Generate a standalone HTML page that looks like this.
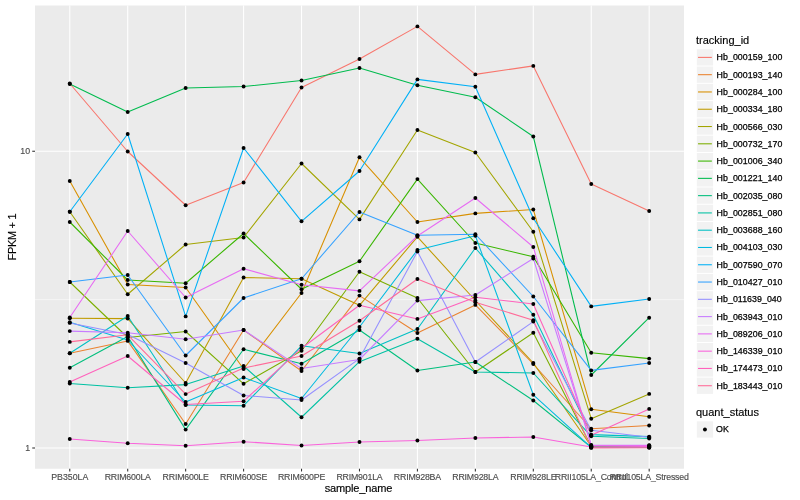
<!DOCTYPE html>
<html><head><meta charset="utf-8"><title>plot</title>
<style>html,body{margin:0;padding:0;background:#fff}body{width:800px;height:500px;overflow:hidden}svg{display:block;will-change:transform}text{font-family:"Liberation Sans",sans-serif}</style></head><body>
<svg width="800" height="500" viewBox="0 0 800 500">
<rect x="0" y="0" width="800" height="500" fill="#FFFFFF"/>
<rect x="35.0" y="5.48" width="648.95" height="463.24" fill="#EBEBEB"/>
<line x1="35.0" x2="683.95" y1="299.62" y2="299.62" stroke="#FFFFFF" stroke-width="0.53"/>
<line x1="35.0" x2="683.95" y1="151.25" y2="151.25" stroke="#FFFFFF" stroke-width="1.07"/>
<line x1="35.0" x2="683.95" y1="448.0" y2="448.0" stroke="#FFFFFF" stroke-width="1.07"/>
<line x1="69.77" x2="69.77" y1="5.48" y2="468.72" stroke="#FFFFFF" stroke-width="1.07"/>
<line x1="127.71" x2="127.71" y1="5.48" y2="468.72" stroke="#FFFFFF" stroke-width="1.07"/>
<line x1="185.65" x2="185.65" y1="5.48" y2="468.72" stroke="#FFFFFF" stroke-width="1.07"/>
<line x1="243.59" x2="243.59" y1="5.48" y2="468.72" stroke="#FFFFFF" stroke-width="1.07"/>
<line x1="301.53" x2="301.53" y1="5.48" y2="468.72" stroke="#FFFFFF" stroke-width="1.07"/>
<line x1="359.48" x2="359.48" y1="5.48" y2="468.72" stroke="#FFFFFF" stroke-width="1.07"/>
<line x1="417.42" x2="417.42" y1="5.48" y2="468.72" stroke="#FFFFFF" stroke-width="1.07"/>
<line x1="475.36" x2="475.36" y1="5.48" y2="468.72" stroke="#FFFFFF" stroke-width="1.07"/>
<line x1="533.30" x2="533.30" y1="5.48" y2="468.72" stroke="#FFFFFF" stroke-width="1.07"/>
<line x1="591.24" x2="591.24" y1="5.48" y2="468.72" stroke="#FFFFFF" stroke-width="1.07"/>
<line x1="649.18" x2="649.18" y1="5.48" y2="468.72" stroke="#FFFFFF" stroke-width="1.07"/>
<g fill="none" stroke-width="1.07" stroke-linejoin="round" stroke-linecap="butt">
<polyline points="69.77,83.50 127.71,151.50 185.65,205.25 243.59,182.50 301.53,87.50 359.48,59.00 417.42,26.40 475.36,74.40 533.30,65.90 591.24,184.00 649.18,211.00" stroke="#F8766D"/>
<polyline points="69.77,353.20 127.71,340.90 185.65,424.00 243.59,330.00 301.53,371.00 359.48,295.60 417.42,333.00 475.36,304.90 533.30,364.00 591.24,428.75 649.18,425.50" stroke="#EA8331"/>
<polyline points="69.77,181.00 127.71,284.50 185.65,287.50 243.59,369.00 301.53,293.00 359.48,157.30 417.42,222.00 475.36,213.40 533.30,209.50 591.24,409.20 649.18,416.70" stroke="#D89000"/>
<polyline points="69.77,318.20 127.71,318.60 185.65,383.00 243.59,277.50 301.53,278.75 359.48,305.30 417.42,236.80 475.36,300.50 533.30,363.00 591.24,446.20 649.18,446.50" stroke="#C09B00"/>
<polyline points="69.77,211.75 127.71,294.25 185.65,244.50 243.59,237.50 301.53,163.50 359.48,219.40 417.42,130.00 475.36,152.50 533.30,231.75 591.24,418.70 649.18,393.90" stroke="#A3A500"/>
<polyline points="69.77,282.00 127.71,337.50 185.65,331.50 243.59,383.80 301.53,350.70 359.48,271.70 417.42,298.00 475.36,372.00 533.30,332.70 591.24,446.40 649.18,446.60" stroke="#7CAE00"/>
<polyline points="69.77,222.00 127.71,280.00 185.65,283.25 243.59,233.50 301.53,289.25 359.48,261.20 417.42,179.10 475.36,243.00 533.30,256.80 591.24,352.80 649.18,358.60" stroke="#39B600"/>
<polyline points="69.77,84.00 127.71,112.00 185.65,88.00 243.59,86.50 301.53,80.50 359.48,68.00 417.42,85.20 475.36,97.20 533.30,136.50 591.24,375.00 649.18,317.70" stroke="#00BB4E"/>
<polyline points="69.77,367.70 127.71,336.50 185.65,429.60 243.59,349.30 301.53,363.80 359.48,330.00 417.42,370.50 475.36,362.00 533.30,400.50 591.24,447.40 649.18,447.40" stroke="#00BF7D"/>
<polyline points="69.77,383.50 127.71,387.70 185.65,384.60 243.59,366.00 301.53,417.25 359.48,361.70 417.42,338.70 475.36,372.00 533.30,373.00 591.24,436.30 649.18,438.50" stroke="#00C1A3"/>
<polyline points="69.77,353.20 127.71,316.00 185.65,405.00 243.59,405.70 301.53,345.80 359.48,353.50 417.42,329.00 475.36,248.00 533.30,314.80 591.24,434.60 649.18,436.60" stroke="#00BFC4"/>
<polyline points="69.77,322.30 127.71,340.00 185.65,402.00 243.59,377.50 301.53,398.50 359.48,327.00 417.42,250.00 475.36,235.75 533.30,394.80 591.24,447.40 649.18,447.40" stroke="#00BAE0"/>
<polyline points="69.77,211.75 127.71,134.00 185.65,316.40 243.59,148.00 301.53,221.30 359.48,171.00 417.42,79.40 475.36,86.70 533.30,218.25 591.24,306.40 649.18,299.00" stroke="#00B0F6"/>
<polyline points="69.77,282.00 127.71,275.00 185.65,355.50 243.59,298.00 301.53,278.75 359.48,212.00 417.42,235.20 475.36,234.25 533.30,296.50 591.24,370.40 649.18,363.00" stroke="#35A2FF"/>
<polyline points="69.77,322.90 127.71,334.60 185.65,363.00 243.59,395.50 301.53,400.00 359.48,358.60 417.42,251.50 475.36,362.00 533.30,321.60 591.24,430.30 649.18,437.20" stroke="#9590FF"/>
<polyline points="69.77,331.10 127.71,332.70 185.65,339.30 243.59,330.00 301.53,368.50 359.48,359.50 417.42,300.60 475.36,295.00 533.30,258.50 591.24,445.00 649.18,445.20" stroke="#C77CFF"/>
<polyline points="69.77,317.50 127.71,231.00 185.65,297.50 243.59,268.75 301.53,284.75 359.48,290.90 417.42,236.00 475.36,198.00 533.30,247.00 591.24,445.40 649.18,445.50" stroke="#E76BF3"/>
<polyline points="69.77,439.00 127.71,443.20 185.65,445.80 243.59,441.70 301.53,445.50 359.48,442.00 417.42,440.50 475.36,438.00 533.30,437.00 591.24,447.00 649.18,446.60" stroke="#FA62DB"/>
<polyline points="69.77,382.00 127.71,356.00 185.65,404.50 243.59,401.20 301.53,348.20 359.48,305.30 417.42,318.90 475.36,297.30 533.30,304.00 591.24,435.30 649.18,408.90" stroke="#FF62BC"/>
<polyline points="69.77,341.90 127.71,334.80 185.65,394.10 243.59,368.00 301.53,356.00 359.48,320.80 417.42,279.00 475.36,302.30 533.30,320.20 591.24,447.90 649.18,447.70" stroke="#FF6A98"/>
</g>
<g fill="#000000">
<circle cx="69.77" cy="83.50" r="1.95"/>
<circle cx="127.71" cy="151.50" r="1.95"/>
<circle cx="185.65" cy="205.25" r="1.95"/>
<circle cx="243.59" cy="182.50" r="1.95"/>
<circle cx="301.53" cy="87.50" r="1.95"/>
<circle cx="359.48" cy="59.00" r="1.95"/>
<circle cx="417.42" cy="26.40" r="1.95"/>
<circle cx="475.36" cy="74.40" r="1.95"/>
<circle cx="533.30" cy="65.90" r="1.95"/>
<circle cx="591.24" cy="184.00" r="1.95"/>
<circle cx="649.18" cy="211.00" r="1.95"/>
<circle cx="69.77" cy="353.20" r="1.95"/>
<circle cx="127.71" cy="340.90" r="1.95"/>
<circle cx="185.65" cy="424.00" r="1.95"/>
<circle cx="243.59" cy="330.00" r="1.95"/>
<circle cx="301.53" cy="371.00" r="1.95"/>
<circle cx="359.48" cy="295.60" r="1.95"/>
<circle cx="417.42" cy="333.00" r="1.95"/>
<circle cx="475.36" cy="304.90" r="1.95"/>
<circle cx="533.30" cy="364.00" r="1.95"/>
<circle cx="591.24" cy="428.75" r="1.95"/>
<circle cx="649.18" cy="425.50" r="1.95"/>
<circle cx="69.77" cy="181.00" r="1.95"/>
<circle cx="127.71" cy="284.50" r="1.95"/>
<circle cx="185.65" cy="287.50" r="1.95"/>
<circle cx="243.59" cy="369.00" r="1.95"/>
<circle cx="301.53" cy="293.00" r="1.95"/>
<circle cx="359.48" cy="157.30" r="1.95"/>
<circle cx="417.42" cy="222.00" r="1.95"/>
<circle cx="475.36" cy="213.40" r="1.95"/>
<circle cx="533.30" cy="209.50" r="1.95"/>
<circle cx="591.24" cy="409.20" r="1.95"/>
<circle cx="649.18" cy="416.70" r="1.95"/>
<circle cx="69.77" cy="318.20" r="1.95"/>
<circle cx="127.71" cy="318.60" r="1.95"/>
<circle cx="185.65" cy="383.00" r="1.95"/>
<circle cx="243.59" cy="277.50" r="1.95"/>
<circle cx="301.53" cy="278.75" r="1.95"/>
<circle cx="359.48" cy="305.30" r="1.95"/>
<circle cx="417.42" cy="236.80" r="1.95"/>
<circle cx="475.36" cy="300.50" r="1.95"/>
<circle cx="533.30" cy="363.00" r="1.95"/>
<circle cx="591.24" cy="446.20" r="1.95"/>
<circle cx="649.18" cy="446.50" r="1.95"/>
<circle cx="69.77" cy="211.75" r="1.95"/>
<circle cx="127.71" cy="294.25" r="1.95"/>
<circle cx="185.65" cy="244.50" r="1.95"/>
<circle cx="243.59" cy="237.50" r="1.95"/>
<circle cx="301.53" cy="163.50" r="1.95"/>
<circle cx="359.48" cy="219.40" r="1.95"/>
<circle cx="417.42" cy="130.00" r="1.95"/>
<circle cx="475.36" cy="152.50" r="1.95"/>
<circle cx="533.30" cy="231.75" r="1.95"/>
<circle cx="591.24" cy="418.70" r="1.95"/>
<circle cx="649.18" cy="393.90" r="1.95"/>
<circle cx="69.77" cy="282.00" r="1.95"/>
<circle cx="127.71" cy="337.50" r="1.95"/>
<circle cx="185.65" cy="331.50" r="1.95"/>
<circle cx="243.59" cy="383.80" r="1.95"/>
<circle cx="301.53" cy="350.70" r="1.95"/>
<circle cx="359.48" cy="271.70" r="1.95"/>
<circle cx="417.42" cy="298.00" r="1.95"/>
<circle cx="475.36" cy="372.00" r="1.95"/>
<circle cx="533.30" cy="332.70" r="1.95"/>
<circle cx="591.24" cy="446.40" r="1.95"/>
<circle cx="649.18" cy="446.60" r="1.95"/>
<circle cx="69.77" cy="222.00" r="1.95"/>
<circle cx="127.71" cy="280.00" r="1.95"/>
<circle cx="185.65" cy="283.25" r="1.95"/>
<circle cx="243.59" cy="233.50" r="1.95"/>
<circle cx="301.53" cy="289.25" r="1.95"/>
<circle cx="359.48" cy="261.20" r="1.95"/>
<circle cx="417.42" cy="179.10" r="1.95"/>
<circle cx="475.36" cy="243.00" r="1.95"/>
<circle cx="533.30" cy="256.80" r="1.95"/>
<circle cx="591.24" cy="352.80" r="1.95"/>
<circle cx="649.18" cy="358.60" r="1.95"/>
<circle cx="69.77" cy="84.00" r="1.95"/>
<circle cx="127.71" cy="112.00" r="1.95"/>
<circle cx="185.65" cy="88.00" r="1.95"/>
<circle cx="243.59" cy="86.50" r="1.95"/>
<circle cx="301.53" cy="80.50" r="1.95"/>
<circle cx="359.48" cy="68.00" r="1.95"/>
<circle cx="417.42" cy="85.20" r="1.95"/>
<circle cx="475.36" cy="97.20" r="1.95"/>
<circle cx="533.30" cy="136.50" r="1.95"/>
<circle cx="591.24" cy="375.00" r="1.95"/>
<circle cx="649.18" cy="317.70" r="1.95"/>
<circle cx="69.77" cy="367.70" r="1.95"/>
<circle cx="127.71" cy="336.50" r="1.95"/>
<circle cx="185.65" cy="429.60" r="1.95"/>
<circle cx="243.59" cy="349.30" r="1.95"/>
<circle cx="301.53" cy="363.80" r="1.95"/>
<circle cx="359.48" cy="330.00" r="1.95"/>
<circle cx="417.42" cy="370.50" r="1.95"/>
<circle cx="475.36" cy="362.00" r="1.95"/>
<circle cx="533.30" cy="400.50" r="1.95"/>
<circle cx="591.24" cy="447.40" r="1.95"/>
<circle cx="649.18" cy="447.40" r="1.95"/>
<circle cx="69.77" cy="383.50" r="1.95"/>
<circle cx="127.71" cy="387.70" r="1.95"/>
<circle cx="185.65" cy="384.60" r="1.95"/>
<circle cx="243.59" cy="366.00" r="1.95"/>
<circle cx="301.53" cy="417.25" r="1.95"/>
<circle cx="359.48" cy="361.70" r="1.95"/>
<circle cx="417.42" cy="338.70" r="1.95"/>
<circle cx="475.36" cy="372.00" r="1.95"/>
<circle cx="533.30" cy="373.00" r="1.95"/>
<circle cx="591.24" cy="436.30" r="1.95"/>
<circle cx="649.18" cy="438.50" r="1.95"/>
<circle cx="69.77" cy="353.20" r="1.95"/>
<circle cx="127.71" cy="316.00" r="1.95"/>
<circle cx="185.65" cy="405.00" r="1.95"/>
<circle cx="243.59" cy="405.70" r="1.95"/>
<circle cx="301.53" cy="345.80" r="1.95"/>
<circle cx="359.48" cy="353.50" r="1.95"/>
<circle cx="417.42" cy="329.00" r="1.95"/>
<circle cx="475.36" cy="248.00" r="1.95"/>
<circle cx="533.30" cy="314.80" r="1.95"/>
<circle cx="591.24" cy="434.60" r="1.95"/>
<circle cx="649.18" cy="436.60" r="1.95"/>
<circle cx="69.77" cy="322.30" r="1.95"/>
<circle cx="127.71" cy="340.00" r="1.95"/>
<circle cx="185.65" cy="402.00" r="1.95"/>
<circle cx="243.59" cy="377.50" r="1.95"/>
<circle cx="301.53" cy="398.50" r="1.95"/>
<circle cx="359.48" cy="327.00" r="1.95"/>
<circle cx="417.42" cy="250.00" r="1.95"/>
<circle cx="475.36" cy="235.75" r="1.95"/>
<circle cx="533.30" cy="394.80" r="1.95"/>
<circle cx="591.24" cy="447.40" r="1.95"/>
<circle cx="649.18" cy="447.40" r="1.95"/>
<circle cx="69.77" cy="211.75" r="1.95"/>
<circle cx="127.71" cy="134.00" r="1.95"/>
<circle cx="185.65" cy="316.40" r="1.95"/>
<circle cx="243.59" cy="148.00" r="1.95"/>
<circle cx="301.53" cy="221.30" r="1.95"/>
<circle cx="359.48" cy="171.00" r="1.95"/>
<circle cx="417.42" cy="79.40" r="1.95"/>
<circle cx="475.36" cy="86.70" r="1.95"/>
<circle cx="533.30" cy="218.25" r="1.95"/>
<circle cx="591.24" cy="306.40" r="1.95"/>
<circle cx="649.18" cy="299.00" r="1.95"/>
<circle cx="69.77" cy="282.00" r="1.95"/>
<circle cx="127.71" cy="275.00" r="1.95"/>
<circle cx="185.65" cy="355.50" r="1.95"/>
<circle cx="243.59" cy="298.00" r="1.95"/>
<circle cx="301.53" cy="278.75" r="1.95"/>
<circle cx="359.48" cy="212.00" r="1.95"/>
<circle cx="417.42" cy="235.20" r="1.95"/>
<circle cx="475.36" cy="234.25" r="1.95"/>
<circle cx="533.30" cy="296.50" r="1.95"/>
<circle cx="591.24" cy="370.40" r="1.95"/>
<circle cx="649.18" cy="363.00" r="1.95"/>
<circle cx="69.77" cy="322.90" r="1.95"/>
<circle cx="127.71" cy="334.60" r="1.95"/>
<circle cx="185.65" cy="363.00" r="1.95"/>
<circle cx="243.59" cy="395.50" r="1.95"/>
<circle cx="301.53" cy="400.00" r="1.95"/>
<circle cx="359.48" cy="358.60" r="1.95"/>
<circle cx="417.42" cy="251.50" r="1.95"/>
<circle cx="475.36" cy="362.00" r="1.95"/>
<circle cx="533.30" cy="321.60" r="1.95"/>
<circle cx="591.24" cy="430.30" r="1.95"/>
<circle cx="649.18" cy="437.20" r="1.95"/>
<circle cx="69.77" cy="331.10" r="1.95"/>
<circle cx="127.71" cy="332.70" r="1.95"/>
<circle cx="185.65" cy="339.30" r="1.95"/>
<circle cx="243.59" cy="330.00" r="1.95"/>
<circle cx="301.53" cy="368.50" r="1.95"/>
<circle cx="359.48" cy="359.50" r="1.95"/>
<circle cx="417.42" cy="300.60" r="1.95"/>
<circle cx="475.36" cy="295.00" r="1.95"/>
<circle cx="533.30" cy="258.50" r="1.95"/>
<circle cx="591.24" cy="445.00" r="1.95"/>
<circle cx="649.18" cy="445.20" r="1.95"/>
<circle cx="69.77" cy="317.50" r="1.95"/>
<circle cx="127.71" cy="231.00" r="1.95"/>
<circle cx="185.65" cy="297.50" r="1.95"/>
<circle cx="243.59" cy="268.75" r="1.95"/>
<circle cx="301.53" cy="284.75" r="1.95"/>
<circle cx="359.48" cy="290.90" r="1.95"/>
<circle cx="417.42" cy="236.00" r="1.95"/>
<circle cx="475.36" cy="198.00" r="1.95"/>
<circle cx="533.30" cy="247.00" r="1.95"/>
<circle cx="591.24" cy="445.40" r="1.95"/>
<circle cx="649.18" cy="445.50" r="1.95"/>
<circle cx="69.77" cy="439.00" r="1.95"/>
<circle cx="127.71" cy="443.20" r="1.95"/>
<circle cx="185.65" cy="445.80" r="1.95"/>
<circle cx="243.59" cy="441.70" r="1.95"/>
<circle cx="301.53" cy="445.50" r="1.95"/>
<circle cx="359.48" cy="442.00" r="1.95"/>
<circle cx="417.42" cy="440.50" r="1.95"/>
<circle cx="475.36" cy="438.00" r="1.95"/>
<circle cx="533.30" cy="437.00" r="1.95"/>
<circle cx="591.24" cy="447.00" r="1.95"/>
<circle cx="649.18" cy="446.60" r="1.95"/>
<circle cx="69.77" cy="382.00" r="1.95"/>
<circle cx="127.71" cy="356.00" r="1.95"/>
<circle cx="185.65" cy="404.50" r="1.95"/>
<circle cx="243.59" cy="401.20" r="1.95"/>
<circle cx="301.53" cy="348.20" r="1.95"/>
<circle cx="359.48" cy="305.30" r="1.95"/>
<circle cx="417.42" cy="318.90" r="1.95"/>
<circle cx="475.36" cy="297.30" r="1.95"/>
<circle cx="533.30" cy="304.00" r="1.95"/>
<circle cx="591.24" cy="435.30" r="1.95"/>
<circle cx="649.18" cy="408.90" r="1.95"/>
<circle cx="69.77" cy="341.90" r="1.95"/>
<circle cx="127.71" cy="334.80" r="1.95"/>
<circle cx="185.65" cy="394.10" r="1.95"/>
<circle cx="243.59" cy="368.00" r="1.95"/>
<circle cx="301.53" cy="356.00" r="1.95"/>
<circle cx="359.48" cy="320.80" r="1.95"/>
<circle cx="417.42" cy="279.00" r="1.95"/>
<circle cx="475.36" cy="302.30" r="1.95"/>
<circle cx="533.30" cy="320.20" r="1.95"/>
<circle cx="591.24" cy="447.90" r="1.95"/>
<circle cx="649.18" cy="447.70" r="1.95"/>
</g>
<g stroke="#333333" stroke-width="1.07">
<line x1="32.25" x2="35.0" y1="151.25" y2="151.25"/>
<line x1="32.25" x2="35.0" y1="448.0" y2="448.0"/>
<line x1="69.77" x2="69.77" y1="468.72" y2="471.47"/>
<line x1="127.71" x2="127.71" y1="468.72" y2="471.47"/>
<line x1="185.65" x2="185.65" y1="468.72" y2="471.47"/>
<line x1="243.59" x2="243.59" y1="468.72" y2="471.47"/>
<line x1="301.53" x2="301.53" y1="468.72" y2="471.47"/>
<line x1="359.48" x2="359.48" y1="468.72" y2="471.47"/>
<line x1="417.42" x2="417.42" y1="468.72" y2="471.47"/>
<line x1="475.36" x2="475.36" y1="468.72" y2="471.47"/>
<line x1="533.30" x2="533.30" y1="468.72" y2="471.47"/>
<line x1="591.24" x2="591.24" y1="468.72" y2="471.47"/>
<line x1="649.18" x2="649.18" y1="468.72" y2="471.47"/>
</g>
<g font-size="8.8" fill="#4D4D4D" stroke="#4D4D4D" stroke-width="0.15">
<text x="30.1" y="154.05" text-anchor="end">10</text>
<text x="30.1" y="450.95" text-anchor="end">1</text>
<text x="69.77" y="480" text-anchor="middle" letter-spacing="0">PB350LA</text>
<text x="127.71" y="480" text-anchor="middle" letter-spacing="-0.2">RRIM600LA</text>
<text x="185.65" y="480" text-anchor="middle" letter-spacing="-0.2">RRIM600LE</text>
<text x="243.59" y="480" text-anchor="middle" letter-spacing="-0.2">RRIM600SE</text>
<text x="301.53" y="480" text-anchor="middle" letter-spacing="-0.2">RRIM600PE</text>
<text x="359.48" y="480" text-anchor="middle" letter-spacing="-0.2">RRIM901LA</text>
<text x="417.42" y="480" text-anchor="middle" letter-spacing="-0.2">RRIM928BA</text>
<text x="475.36" y="480" text-anchor="middle" letter-spacing="-0.2">RRIM928LA</text>
<text x="533.30" y="480" text-anchor="middle" letter-spacing="-0.2">RRIM928LE</text>
<text x="591.24" y="480" text-anchor="middle" letter-spacing="-0.2">RRII105LA_Control</text>
<text x="649.18" y="480" text-anchor="middle" letter-spacing="-0.2">RRII105LA_Stressed</text>
</g>
<g font-size="11" fill="#000000" stroke="#000" stroke-width="0.15">
<text x="358.48" y="492" text-anchor="middle" letter-spacing="-0.15">sample_name</text>
<text transform="translate(16.2,237.10) rotate(-90)" text-anchor="middle" letter-spacing="-0.3">FPKM + 1</text>
</g>
<g>
<text x="696.0" y="44.2" font-size="11" fill="#000000" stroke="#000" stroke-width="0.15">tracking_id</text>
<rect x="696.8" y="49.26" width="16.28" height="16.28" fill="#F2F2F2"/>
<line x1="698.03" x2="711.85" y1="57.40" y2="57.40" stroke="#F8766D" stroke-width="1.07"/>
<text class="t" x="716.58" y="60.15" font-size="8.8" letter-spacing="0.06" fill="#000000" stroke="#000" stroke-width="0.25">Hb_000159_100</text>
<rect x="696.8" y="66.54" width="16.28" height="16.28" fill="#F2F2F2"/>
<line x1="698.03" x2="711.85" y1="74.68" y2="74.68" stroke="#EA8331" stroke-width="1.07"/>
<text class="t" x="716.58" y="78.15" font-size="8.8" letter-spacing="0.06" fill="#000000" stroke="#000" stroke-width="0.25">Hb_000193_140</text>
<rect x="696.8" y="83.82" width="16.28" height="16.28" fill="#F2F2F2"/>
<line x1="698.03" x2="711.85" y1="91.96" y2="91.96" stroke="#D89000" stroke-width="1.07"/>
<text class="t" x="716.58" y="95.15" font-size="8.8" letter-spacing="0.06" fill="#000000" stroke="#000" stroke-width="0.25">Hb_000284_100</text>
<rect x="696.8" y="101.10" width="16.28" height="16.28" fill="#F2F2F2"/>
<line x1="698.03" x2="711.85" y1="109.24" y2="109.24" stroke="#C09B00" stroke-width="1.07"/>
<text class="t" x="716.58" y="112.15" font-size="8.8" letter-spacing="0.06" fill="#000000" stroke="#000" stroke-width="0.25">Hb_000334_180</text>
<rect x="696.8" y="118.38" width="16.28" height="16.28" fill="#F2F2F2"/>
<line x1="698.03" x2="711.85" y1="126.52" y2="126.52" stroke="#A3A500" stroke-width="1.07"/>
<text class="t" x="716.58" y="130.15" font-size="8.8" letter-spacing="0.06" fill="#000000" stroke="#000" stroke-width="0.25">Hb_000566_030</text>
<rect x="696.8" y="135.66" width="16.28" height="16.28" fill="#F2F2F2"/>
<line x1="698.03" x2="711.85" y1="143.80" y2="143.80" stroke="#7CAE00" stroke-width="1.07"/>
<text class="t" x="716.58" y="147.15" font-size="8.8" letter-spacing="0.06" fill="#000000" stroke="#000" stroke-width="0.25">Hb_000732_170</text>
<rect x="696.8" y="152.94" width="16.28" height="16.28" fill="#F2F2F2"/>
<line x1="698.03" x2="711.85" y1="161.08" y2="161.08" stroke="#39B600" stroke-width="1.07"/>
<text class="t" x="716.58" y="164.15" font-size="8.8" letter-spacing="0.06" fill="#000000" stroke="#000" stroke-width="0.25">Hb_001006_340</text>
<rect x="696.8" y="170.22" width="16.28" height="16.28" fill="#F2F2F2"/>
<line x1="698.03" x2="711.85" y1="178.36" y2="178.36" stroke="#00BB4E" stroke-width="1.07"/>
<text class="t" x="716.58" y="181.15" font-size="8.8" letter-spacing="0.06" fill="#000000" stroke="#000" stroke-width="0.25">Hb_001221_140</text>
<rect x="696.8" y="187.50" width="16.28" height="16.28" fill="#F2F2F2"/>
<line x1="698.03" x2="711.85" y1="195.64" y2="195.64" stroke="#00BF7D" stroke-width="1.07"/>
<text class="t" x="716.58" y="199.15" font-size="8.8" letter-spacing="0.06" fill="#000000" stroke="#000" stroke-width="0.25">Hb_002035_080</text>
<rect x="696.8" y="204.78" width="16.28" height="16.28" fill="#F2F2F2"/>
<line x1="698.03" x2="711.85" y1="212.92" y2="212.92" stroke="#00C1A3" stroke-width="1.07"/>
<text class="t" x="716.58" y="216.15" font-size="8.8" letter-spacing="0.06" fill="#000000" stroke="#000" stroke-width="0.25">Hb_002851_080</text>
<rect x="696.8" y="222.06" width="16.28" height="16.28" fill="#F2F2F2"/>
<line x1="698.03" x2="711.85" y1="230.20" y2="230.20" stroke="#00BFC4" stroke-width="1.07"/>
<text class="t" x="716.58" y="233.15" font-size="8.8" letter-spacing="0.06" fill="#000000" stroke="#000" stroke-width="0.25">Hb_003688_160</text>
<rect x="696.8" y="239.34" width="16.28" height="16.28" fill="#F2F2F2"/>
<line x1="698.03" x2="711.85" y1="247.48" y2="247.48" stroke="#00BAE0" stroke-width="1.07"/>
<text class="t" x="716.58" y="250.15" font-size="8.8" letter-spacing="0.06" fill="#000000" stroke="#000" stroke-width="0.25">Hb_004103_030</text>
<rect x="696.8" y="256.62" width="16.28" height="16.28" fill="#F2F2F2"/>
<line x1="698.03" x2="711.85" y1="264.76" y2="264.76" stroke="#00B0F6" stroke-width="1.07"/>
<text class="t" x="716.58" y="268.15" font-size="8.8" letter-spacing="0.06" fill="#000000" stroke="#000" stroke-width="0.25">Hb_007590_070</text>
<rect x="696.8" y="273.90" width="16.28" height="16.28" fill="#F2F2F2"/>
<line x1="698.03" x2="711.85" y1="282.04" y2="282.04" stroke="#35A2FF" stroke-width="1.07"/>
<text class="t" x="716.58" y="285.15" font-size="8.8" letter-spacing="0.06" fill="#000000" stroke="#000" stroke-width="0.25">Hb_010427_010</text>
<rect x="696.8" y="291.18" width="16.28" height="16.28" fill="#F2F2F2"/>
<line x1="698.03" x2="711.85" y1="299.32" y2="299.32" stroke="#9590FF" stroke-width="1.07"/>
<text class="t" x="716.58" y="302.15" font-size="8.8" letter-spacing="0.06" fill="#000000" stroke="#000" stroke-width="0.25">Hb_011639_040</text>
<rect x="696.8" y="308.46" width="16.28" height="16.28" fill="#F2F2F2"/>
<line x1="698.03" x2="711.85" y1="316.60" y2="316.60" stroke="#C77CFF" stroke-width="1.07"/>
<text class="t" x="716.58" y="320.15" font-size="8.8" letter-spacing="0.06" fill="#000000" stroke="#000" stroke-width="0.25">Hb_063943_010</text>
<rect x="696.8" y="325.74" width="16.28" height="16.28" fill="#F2F2F2"/>
<line x1="698.03" x2="711.85" y1="333.88" y2="333.88" stroke="#E76BF3" stroke-width="1.07"/>
<text class="t" x="716.58" y="337.15" font-size="8.8" letter-spacing="0.06" fill="#000000" stroke="#000" stroke-width="0.25">Hb_089206_010</text>
<rect x="696.8" y="343.02" width="16.28" height="16.28" fill="#F2F2F2"/>
<line x1="698.03" x2="711.85" y1="351.16" y2="351.16" stroke="#FA62DB" stroke-width="1.07"/>
<text class="t" x="716.58" y="354.15" font-size="8.8" letter-spacing="0.06" fill="#000000" stroke="#000" stroke-width="0.25">Hb_146339_010</text>
<rect x="696.8" y="360.30" width="16.28" height="16.28" fill="#F2F2F2"/>
<line x1="698.03" x2="711.85" y1="368.44" y2="368.44" stroke="#FF62BC" stroke-width="1.07"/>
<text class="t" x="716.58" y="371.15" font-size="8.8" letter-spacing="0.06" fill="#000000" stroke="#000" stroke-width="0.25">Hb_174473_010</text>
<rect x="696.8" y="377.58" width="16.28" height="16.28" fill="#F2F2F2"/>
<line x1="698.03" x2="711.85" y1="385.72" y2="385.72" stroke="#FF6A98" stroke-width="1.07"/>
<text class="t" x="716.58" y="389.15" font-size="8.8" letter-spacing="0.06" fill="#000000" stroke="#000" stroke-width="0.25">Hb_183443_010</text>
<text x="696.0" y="415.7" font-size="11" fill="#000000" stroke="#000" stroke-width="0.15">quant_status</text>
<rect x="696.8" y="421.30" width="16.28" height="16.28" fill="#F2F2F2"/>
<circle cx="704.94" cy="429.44" r="1.95" fill="#000"/>
<text class="t" x="716.58" y="432.15" font-size="8.8" fill="#000000" stroke="#000" stroke-width="0.25" dx="-0.5">OK</text>
</g>
</svg></body></html>
